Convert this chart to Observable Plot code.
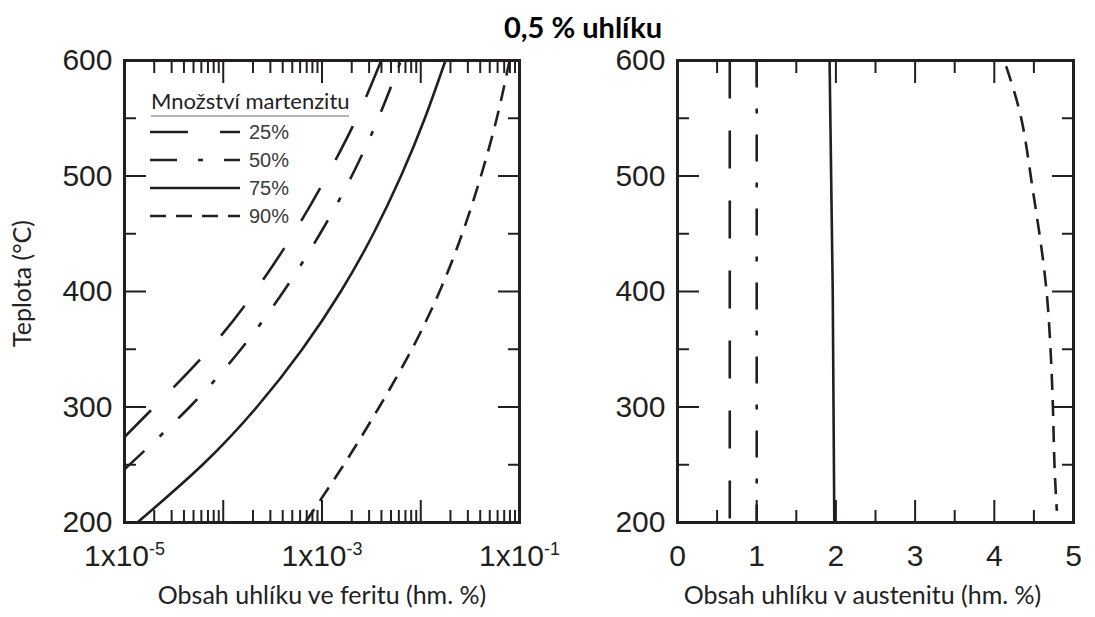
<!DOCTYPE html>
<html>
<head>
<meta charset="utf-8">
<script src="https://cdn.jsdelivr.net/npm/d3@7"></script>
<script src="https://cdn.jsdelivr.net/npm/@observablehq/plot@0.6"></script>
<style>
  html, body { margin:0; padding:0; background:#fff; }
  #wrap { position:relative; width:1095px; height:617px; overflow:hidden; background:#fff; }
  #title { position:absolute; left:433px; top:12px; width:300px; text-align:center;
           font-family:Lato, "Open Sans", sans-serif; font-weight:700; font-size:29px; line-height:29px; color:#000; }
  #left { position:absolute; left:0; top:0; width:560px; height:617px; }
  #right { position:absolute; left:560px; top:0; width:535px; height:617px; }
  #legend { position:absolute; left:0; top:0; pointer-events:none; }
</style>
</head>
<body>
<div id="wrap">
  <div id="left"></div>
  <div id="right"></div>
  <div id="title">0,5 % uhlíku</div>
</div>
<script>
// ---------------- DATA ----------------
const seriesNames = ["25%", "50%", "75%", "90%"];

// Left panel: carbon content in ferrite (wt. %) vs temperature (°C)
const ferT25 = [274, 300, 350, 400, 450, 500, 550, 600];
const ferC25 = [1.0e-5, 2.0e-5, 7.24e-5, 2.09e-4, 5.13e-4, 1.12e-3, 2.24e-3, 3.98e-3];
const ferT50 = [246, 300, 350, 400, 450, 500, 550, 600];
const ferC50 = [1.0e-5, 4.57e-5, 1.51e-4, 4.07e-4, 9.55e-4, 2.0e-3, 3.72e-3, 6.31e-3];
const ferT75 = [200, 250, 300, 350, 400, 450, 500, 550, 600];
const ferC75 = [1.35e-5, 6.17e-5, 2.19e-4, 6.31e-4, 1.55e-3, 3.31e-3, 6.31e-3, 1.10e-2, 1.78e-2];
const ferT90 = [200, 250, 300, 350, 400, 450, 500, 550, 600];
const ferC90 = [6.76e-4, 1.66e-3, 3.80e-3, 8.13e-3, 1.55e-2, 2.63e-2, 4.07e-2, 5.89e-2, 7.94e-2];

// Right panel: carbon content in austenite (wt. %) vs temperature (°C)
const ausT25 = [600, 200];
const ausC25 = [0.66, 0.66];
const ausT50 = [600, 200];
const ausC50 = [1.0, 1.0];
const ausT75 = [600, 400, 200];
const ausC75 = [1.92, 1.96, 1.98];
const ausT90 = [595, 550, 500, 450, 400, 350, 300, 250, 210];
const ausC90 = [4.15, 4.34, 4.46, 4.57, 4.66, 4.71, 4.74, 4.76, 4.79];

// Axis ticks / labels
const tempMajor = [200, 300, 400, 500, 600];
const tempMinor = [250, 350, 450, 550];
const ferMajor = [1e-5, 1e-4, 1e-3, 1e-2, 1e-1];
const ferLabels = [1e-5, 1e-3, 1e-1];
const ausMajor = [0, 1, 2, 3, 4, 5];
const ausMinor = [0.5, 1.5, 2.5, 3.5, 4.5];

const titleText = "0,5 % uhlíku";
const yTitle = "Teplota (°C)";
const xTitleLeft = "Obsah uhlíku ve feritu (hm. %)";
const xTitleRight = "Obsah uhlíku v austenitu (hm. %)";
const legendTitle = "Množství martenzitu";

// ---------------- STYLE ----------------
const ink = "#231f20";
const dashes = {"25%": "38,32", "50%": "27,21,5,21", "75%": null, "90%": "16,10"};
const ferMinor = [];
for (const d of ferMajor.slice(0, -1)) for (let k = 2; k <= 9; k++) ferMinor.push(d * k);

const rows = (T, C) => T.map((t, i) => ({t, c: C[i]}));
const ferSeries = {"25%": rows(ferT25, ferC25), "50%": rows(ferT50, ferC50), "75%": rows(ferT75, ferC75), "90%": rows(ferT90, ferC90)};
const ausSeries = {"25%": rows(ausT25, ausC25), "50%": rows(ausT50, ausC50), "75%": rows(ausT75, ausC75), "90%": rows(ausT90, ausC90)};

const blank = () => "";
function inwardTicks(xMajor, xMinor, yMajor, yMinor) {
  const o = {tickFormat: blank, label: null, strokeWidth: 2, stroke: ink};
  return [
    Plot.axisX(xMajor, {...o, anchor: "bottom", tickSize: 22, dy: -22}),
    Plot.axisX(xMinor, {...o, anchor: "bottom", tickSize: 12, dy: -12}),
    Plot.axisX(xMajor, {...o, anchor: "top", tickSize: 22, dy: 22}),
    Plot.axisX(xMinor, {...o, anchor: "top", tickSize: 12, dy: 12}),
    Plot.axisY(yMajor, {...o, anchor: "left", tickSize: 22, dx: 22}),
    Plot.axisY(yMinor, {...o, anchor: "left", tickSize: 12, dx: 12}),
    Plot.axisY(yMajor, {...o, anchor: "right", tickSize: 22, dx: -22}),
    Plot.axisY(yMinor, {...o, anchor: "right", tickSize: 12, dx: -12})
  ];
}
function curves(series) {
  return seriesNames.map(n => Plot.line(series[n], {
    x: "c", y: "t", curve: "natural", stroke: ink, strokeWidth: 2.6,
    strokeDasharray: dashes[n] || undefined, strokeLinecap: "butt", strokeLinejoin: "round"
  }));
}
const baseStyle = {fontFamily: "'Liberation Sans', Arial, sans-serif", fontSize: "30px", color: ink, background: "transparent", overflow: "visible"};
const titleFont = {fontFamily: "Lato, 'Open Sans', sans-serif", fontSize: 25, fill: "#222"};

// ---------------- LEFT PANEL ----------------
const leftSvg = Plot.plot({
  width: 560, height: 617,
  marginLeft: 124, marginRight: 41, marginTop: 60, marginBottom: 95,
  x: {type: "log", domain: [1e-5, 1e-1]},
  y: {domain: [200, 600]},
  style: baseStyle,
  marks: [
    ...inwardTicks(ferMajor, ferMinor, tempMajor, tempMinor),
    Plot.axisX(ferLabels, {anchor: "bottom", tickSize: 0, tickPadding: 22, label: null,
      tickFormat: d => `1x10^${Math.round(Math.log10(d))}`}),
    Plot.axisY(tempMajor, {anchor: "left", tickSize: 0, tickPadding: 12, label: null}),
    ...curves(ferSeries),
    Plot.frame({stroke: ink, strokeWidth: 3}),
    Plot.text([xTitleLeft], {...titleFont, frameAnchor: "bottom", dy: 81}),
    Plot.text([yTitle], {...titleFont, frameAnchor: "left", textAnchor: "middle", dx: -102, dy: -8, rotate: -90})
  ]
});
document.getElementById("left").appendChild(leftSvg);

// superscript exponents on log labels
d3.select(leftSvg).selectAll('g[aria-label="x-axis tick label"] text').each(function() {
  const m = this.textContent.match(/^(.*)\^(.*)$/);
  if (!m) return;
  const sel = d3.select(this);
  sel.text(null);
  sel.append("tspan").text(m[1]);
  sel.append("tspan").attr("font-size", 18).attr("dy", -11).text(m[2]);
});

// ---------------- RIGHT PANEL ----------------
const rightSvg = Plot.plot({
  width: 535, height: 617,
  marginLeft: 117, marginRight: 22, marginTop: 60, marginBottom: 95,
  x: {domain: [0, 5]},
  y: {domain: [200, 600]},
  style: baseStyle,
  marks: [
    ...inwardTicks(ausMajor, ausMinor, tempMajor, tempMinor),
    Plot.axisX(ausMajor, {anchor: "bottom", tickSize: 0, tickPadding: 22, label: null}),
    Plot.axisY(tempMajor, {anchor: "left", tickSize: 0, tickPadding: 12, label: null}),
    ...curves(ausSeries),
    Plot.frame({stroke: ink, strokeWidth: 3}),
    Plot.text([xTitleRight], {...titleFont, frameAnchor: "bottom", dy: 81, dx: -13})
  ]
});
document.getElementById("right").appendChild(rightSvg);

// ---------------- LEGEND (inside left panel) ----------------
const leg = d3.select("#wrap").append("svg").attr("id", "legend").attr("width", 560).attr("height", 617);
leg.append("text").attr("x", 151).attr("y", 109)
  .attr("font-family", "Lato, 'Open Sans', sans-serif").attr("font-size", 22).attr("fill", "#222")
  .text(legendTitle);
leg.append("line").attr("x1", 151).attr("x2", 349).attr("y1", 116).attr("y2", 116)
  .attr("stroke", "#9a9a9a").attr("stroke-width", 1.5);
seriesNames.forEach((n, i) => {
  const y = 132 + i * 28;
  leg.append("line").attr("x1", 150).attr("x2", 240).attr("y1", y).attr("y2", y)
    .attr("stroke", ink).attr("stroke-width", 2.6)
    .attr("stroke-dasharray", dashes[n]);
  leg.append("text").attr("x", 249).attr("y", y + 7)
    .attr("font-family", "'Liberation Sans', Arial, sans-serif").attr("font-size", 20).attr("fill", "#3a3a3a")
    .text(n);
});
document.getElementById("title").textContent = titleText;
</script>
</body>
</html>
